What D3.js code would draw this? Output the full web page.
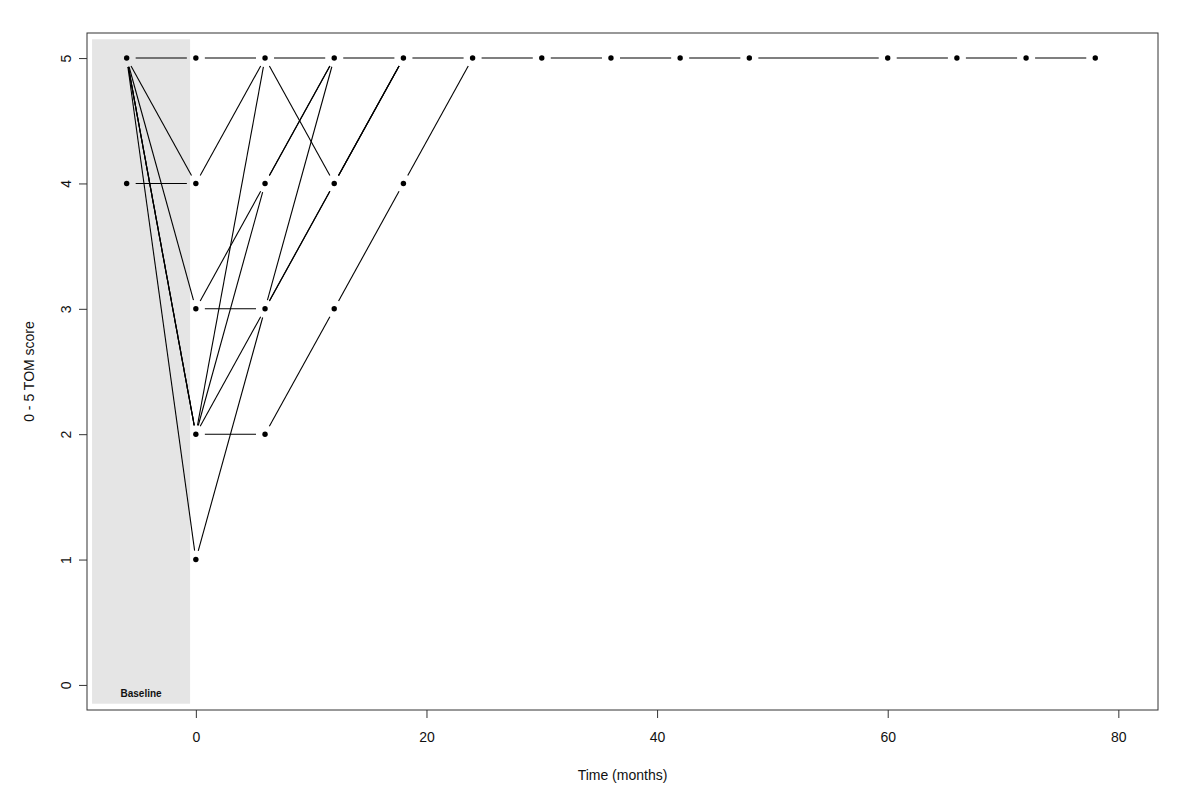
<!DOCTYPE html>
<html>
<head>
<meta charset="utf-8">
<script src="https://cdn.jsdelivr.net/npm/d3@7"></script>
<style>
  html, body { margin: 0; padding: 0; background: #fff; }
  svg { display: block; font-family: "Liberation Sans", Arial, sans-serif; }
</style>
</head>
<body>
<svg id="chart" width="1200" height="811"></svg>
<script>
// ---- Data ----
const timePoints = [-6, 0, 6, 12, 18, 24, 30, 36, 42, 48, 60, 66, 72, 78];
const patient1 = [5, 5, 5, 5, 5, 5, 5, 5, 5, 5, 5, 5, 5, 5];
const patient2 = [4, 4, 5, 4, 5];
const patient3 = [5, 4];
const patient4 = [5, 3, 3, 4, 5];
const patient5 = [null, 3, 4, 5];
const patient6 = [5, 2, 5];
const patient7 = [5, 2, 4, 5];
const patient8 = [null, 2, 3, 5];
const patient9 = [5, 2, 2, 3, 4, 5];
const patient10 = [5, 1, 3, 4, 5];
const patients = [patient1, patient2, patient3, patient4, patient5, patient6, patient7, patient8, patient9, patient10];
const xTicks = [0, 20, 40, 60, 80];
const yTicks = [0, 1, 2, 3, 4, 5];
const baselineRegion = { x0: -9, x1: -0.5, y0: -0.15, y1: 5.15 };
const xLabel = "Time (months)";
const yLabel = "0 - 5 TOM score";
const baselineLabel = "Baseline";

// ---- Layout ----
const svg = d3.select("#chart");
const mLeft = 87, mRight = 1158, mTop = 33, mBottom = 710;
const x = d3.scaleLinear().domain([-9.44, 83.44]).range([mLeft, mRight]);
const y = d3.scaleLinear().domain([-0.2, 5.2]).range([mBottom, mTop]);

// Baseline shaded region
svg.append("rect")
  .attr("x", x(baselineRegion.x0))
  .attr("y", y(baselineRegion.y1))
  .attr("width", x(baselineRegion.x1) - x(baselineRegion.x0))
  .attr("height", y(baselineRegion.y0) - y(baselineRegion.y1))
  .attr("fill", "#e5e5e5");

svg.append("text")
  .attr("x", x((baselineRegion.x0 + baselineRegion.x1) / 2))
  .attr("y", y(baselineRegion.y0) - 7)
  .attr("text-anchor", "middle")
  .attr("font-size", 10)
  .attr("font-weight", "bold")
  .attr("fill", "#111")
  .text(baselineLabel);

// Trajectories (type "b": segments with gaps around points)
const gap = 9;
const segGroup = svg.append("g").attr("stroke", "#000").attr("stroke-width", 1.1).attr("fill", "none");
const pointSet = new Map();
patients.forEach(scores => {
  const pts = [];
  scores.forEach((s, i) => {
    if (s !== null && s !== undefined) pts.push([timePoints[i], s]);
  });
  pts.forEach(p => pointSet.set(p[0] + "_" + p[1], p));
  for (let i = 0; i < pts.length - 1; i++) {
    const x1 = x(pts[i][0]), y1 = y(pts[i][1]);
    const x2 = x(pts[i + 1][0]), y2 = y(pts[i + 1][1]);
    const dx = x2 - x1, dy = y2 - y1;
    const len = Math.sqrt(dx * dx + dy * dy);
    if (len <= 2 * gap) continue;
    const ux = dx / len, uy = dy / len;
    segGroup.append("line")
      .attr("x1", x1 + ux * gap).attr("y1", y1 + uy * gap)
      .attr("x2", x2 - ux * gap).attr("y2", y2 - uy * gap);
  }
});

svg.append("g").selectAll("circle")
  .data(Array.from(pointSet.values()))
  .join("circle")
  .attr("cx", d => x(d[0]))
  .attr("cy", d => y(d[1]))
  .attr("r", 2.7)
  .attr("fill", "#000");

// Box
svg.append("rect")
  .attr("x", mLeft).attr("y", mTop)
  .attr("width", mRight - mLeft).attr("height", mBottom - mTop)
  .attr("fill", "none").attr("stroke", "#333").attr("stroke-width", 1);

// X axis
const xAxis = svg.append("g").attr("transform", `translate(0,${mBottom})`)
  .call(d3.axisBottom(x).tickValues(xTicks).tickSize(8).tickPadding(14).tickFormat(d3.format("d")));
xAxis.select(".domain").remove();
xAxis.selectAll("line").attr("stroke", "#333");
xAxis.selectAll("text").attr("font-size", 14).attr("fill", "#111").attr("font-family", "Liberation Sans, Arial, sans-serif");

// Y axis
const yAxis = svg.append("g").attr("transform", `translate(${mLeft},0)`)
  .call(d3.axisLeft(y).tickValues(yTicks).tickSize(8).tickFormat(d3.format("d")));
yAxis.select(".domain").remove();
yAxis.selectAll("line").attr("stroke", "#333");
yAxis.selectAll("text")
  .attr("font-size", 14).attr("fill", "#111")
  .attr("font-family", "Liberation Sans, Arial, sans-serif")
  .attr("text-anchor", "middle")
  .attr("x", null)
  .attr("transform", "translate(-21,0) rotate(-90)")
  .attr("dy", "0.35em");

// Axis titles
svg.append("text")
  .attr("x", (mLeft + mRight) / 2)
  .attr("y", 780)
  .attr("text-anchor", "middle")
  .attr("font-size", 14)
  .attr("fill", "#111")
  .text(xLabel);

svg.append("text")
  .attr("transform", `translate(34,${(mTop + mBottom) / 2}) rotate(-90)`)
  .attr("text-anchor", "middle")
  .attr("font-size", 14)
  .attr("fill", "#111")
  .text(yLabel);
</script>
</body>
</html>
